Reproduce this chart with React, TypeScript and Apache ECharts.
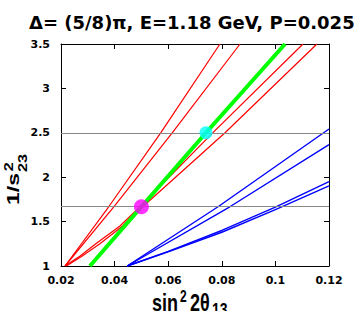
import React, { useEffect, useRef } from 'react';
import * as echarts from 'echarts';

// ---- data ----
const titleText = 'Δ= (5/8)π, E=1.18 GeV, P=0.0258';
const xRange = [0.02, 0.12];
const xStep = 0.02;
const yRange = [1, 3.5];
const yStep = 0.5;

const red1 = [[0.0215, 1], [0.0378, 1.667], [0.0572, 2.5], [0.0793, 3.5]];
const red2 = [[0.0215, 1], [0.0397, 1.667], [0.0615, 2.5], [0.0868, 3.5]];
const red3 = [[0.0215, 1], [0.027, 1.11], [0.033, 1.25], [0.042, 1.45], [0.0495, 1.667], [0.0766, 2.5], [0.1103, 3.5]];
const red4 = [[0.022, 1], [0.0278, 1.11], [0.0345, 1.25], [0.043, 1.45], [0.0505, 1.667], [0.0812, 2.5], [0.1155, 3.5]];

const blue1 = [[0.0447, 1], [0.0786, 1.667], [0.12, 2.543]];
const blue2 = [[0.0447, 1], [0.083, 1.667], [0.12, 2.366]];
const blue3 = [[0.0447, 1], [0.06, 1.165], [0.08, 1.4], [0.1, 1.663], [0.12, 1.951]];
const blue4 = [[0.0447, 1], [0.06, 1.16], [0.08, 1.38], [0.1, 1.635], [0.12, 1.903]];

const green = [[0.0308, 1], [0.05, 1.667], [0.0741, 2.5], [0.1036, 3.5]];

const magentaPoint = [0.05, 1.667];
const cyanPoint = [0.0741, 2.5];
const refLevels = [2.5, 1.667];

const tickFont = { fontFamily: 'DejaVu Sans', fontWeight: 'bold' as const, fontSize: 11, color: '#000' };
const nameFont = '"Liberation Sans", Arial, sans-serif';

function lineSeries(data: number[][], color: string, width: number, z: number) {
  return {
    type: 'line',
    data,
    showSymbol: false,
    symbol: 'none',
    smooth: false,
    lineStyle: { color, width, join: 'round' },
    itemStyle: { color },
    z,
    silent: true,
    clip: true,
  };
}

function baseAxis(extra: any) {
  return {
    type: 'value',
    axisLine: { show: true, lineStyle: { color: '#000', width: 1 } },
    axisTick: { show: true, inside: true, length: 5, lineStyle: { color: '#000', width: 1 } },
    splitLine: { show: false },
    ...extra,
  };
}

const textStyle = (text: string, fontSize: number) => ({
  text,
  fontFamily: nameFont,
  fontWeight: 'bold',
  fontSize,
  fill: '#000',
  align: 'left',
  verticalAlign: 'middle',
  textAlign: 'left',
  textVerticalAlign: 'middle',
});

export default function App() {
  const ref = useRef<HTMLDivElement>(null);
  useEffect(() => {
    document.body.style.margin = '0';
    const chart = echarts.init(ref.current!, null, { renderer: 'svg' });
    const fmt = (v: number) => String(+v.toFixed(2));
    const option: any = {
      animation: false,
      backgroundColor: '#fff',
      title: {
        text: titleText,
        left: 29,
        top: 13,
        padding: 0,
        textStyle: { fontFamily: 'DejaVu Sans', fontWeight: 'bold', fontSize: 18, color: '#000' },
      },
      grid: { left: 61, right: 25, top: 44, bottom: 45, containLabel: false },
      xAxis: [
        baseAxis({
          min: xRange[0], max: xRange[1], interval: xStep, position: 'bottom',
          axisLabel: { ...tickFont, margin: 9, formatter: fmt },
        }),
        baseAxis({
          min: xRange[0], max: xRange[1], interval: xStep, position: 'top',
          axisLabel: { show: false },
        }),
      ],
      yAxis: [
        baseAxis({
          min: yRange[0], max: yRange[1], interval: yStep, position: 'left',
          axisLabel: { ...tickFont, margin: 11, formatter: fmt },
        }),
        baseAxis({
          min: yRange[0], max: yRange[1], interval: yStep, position: 'right',
          axisLabel: { show: false },
        }),
      ],
      graphic: [
        {
          type: 'group',
          x: 19.5,
          y: 205,
          rotation: Math.PI / 2,
          scaleX: 1.35,
          children: [
            { type: 'text', x: 0, y: -6, style: textStyle('1/s', 17) },
            { type: 'text', x: 25, y: -10.5, style: textStyle('2', 12) },
            { type: 'text', x: 24.5, y: 3.5, style: textStyle('23', 12) },
          ],
        },
        {
          type: 'group',
          x: 152,
          y: 311,
          scaleY: 1.3,
          children: [
            { type: 'text', x: 0, y: -6.3, style: textStyle('sin', 18) },
            { type: 'text', x: 28, y: -11.2, style: textStyle('2', 12) },
            { type: 'text', x: 38, y: -6.3, style: textStyle('2θ', 18) },
            { type: 'text', x: 60, y: -1.5, style: textStyle('13', 14) },
          ],
        },
      ],
      series: [
        {
          type: 'line',
          data: [],
          silent: true,
          z: 1,
          markLine: {
            silent: true,
            symbol: 'none',
            label: { show: false },
            lineStyle: { color: '#888', width: 1, type: 'solid' },
            data: refLevels.map((v) => ({ yAxis: v })),
          },
        },
        lineSeries(red1, '#ff0000', 1.2, 3),
        lineSeries(red2, '#ff0000', 1.2, 3),
        lineSeries(red3, '#ff0000', 1.2, 3),
        lineSeries(red4, '#ff0000', 1.2, 3),
        lineSeries(blue1, '#0000ff', 1.4, 3),
        lineSeries(blue2, '#0000ff', 1.4, 3),
        lineSeries(blue3, '#0000ff', 1.4, 3),
        lineSeries(blue4, '#0000ff', 1.4, 3),
        lineSeries(green, '#00ff00', 4, 4),
        {
          type: 'scatter',
          data: [magentaPoint],
          symbol: 'circle',
          symbolSize: 15,
          itemStyle: { color: '#ff00ff' },
          z: 6,
          silent: true,
        },
        {
          type: 'scatter',
          data: [cyanPoint],
          symbol: 'circle',
          symbolSize: 13,
          itemStyle: { color: '#00ffff' },
          z: 6,
          silent: true,
        },
      ],
    };
    chart.setOption(option);
    return () => chart.dispose();
  }, []);
  return <div ref={ref} style={{ width: 354, height: 311, position: 'fixed', left: 0, top: 0 }} />;
}
